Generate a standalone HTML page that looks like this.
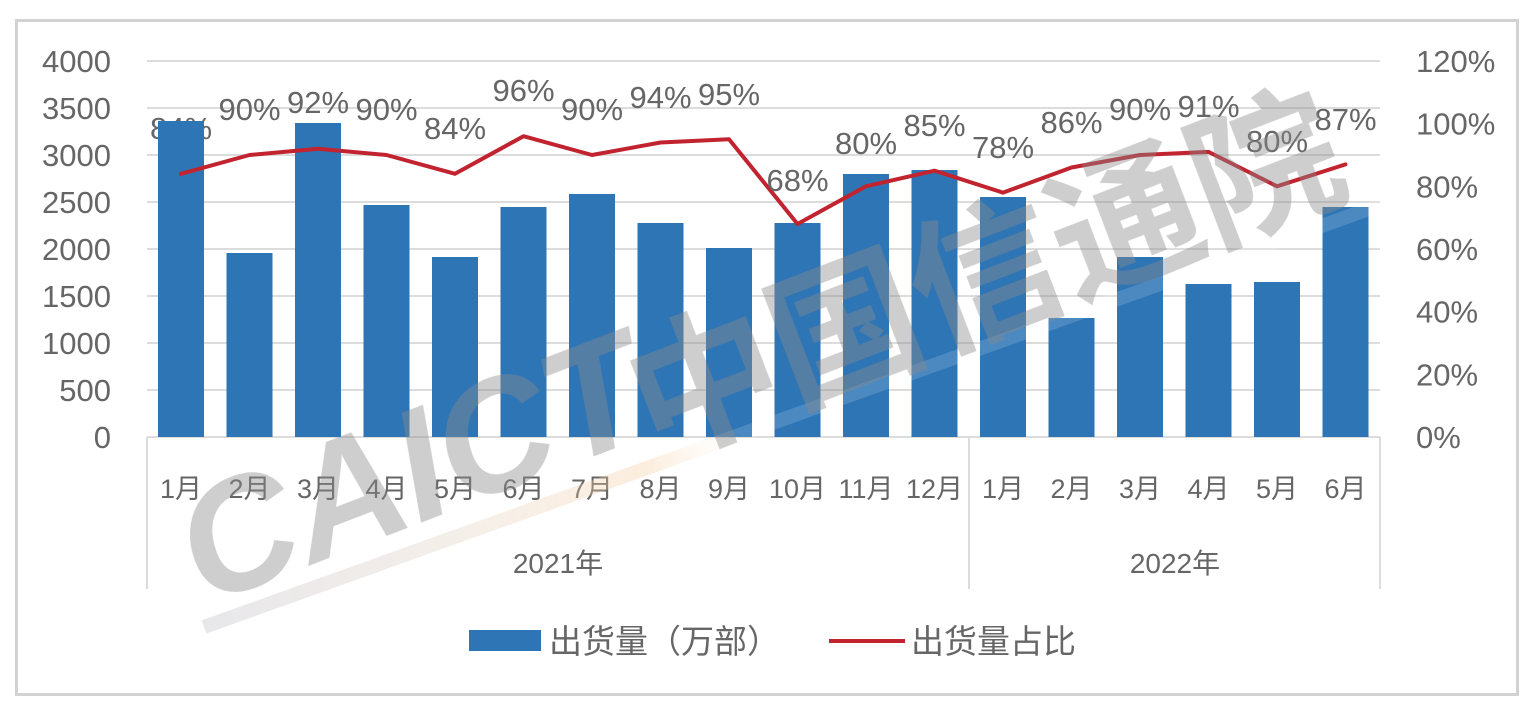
<!DOCTYPE html>
<html><head><meta charset="utf-8"><style>
html,body{margin:0;padding:0;background:#fff;}
svg{display:block;}
text{font-family:"Liberation Sans","Noto Sans CJK SC",sans-serif;fill:#666;}
</style></head><body>
<svg width="1535" height="711" viewBox="0 0 1535 711" xmlns="http://www.w3.org/2000/svg">
<defs>
<linearGradient id="stripe" gradientUnits="userSpaceOnUse" x1="204" y1="627" x2="1380" y2="205">
<stop offset="0" stop-color="#c4c4cc" stop-opacity="0.8"/>
<stop offset="0.25" stop-color="#e8d4c0" stop-opacity="0.7"/>
<stop offset="0.38" stop-color="#f3c690" stop-opacity="0.6"/>
<stop offset="0.45" stop-color="#ffffff" stop-opacity="0.3"/>
<stop offset="1" stop-color="#ffffff" stop-opacity="0.3"/>
</linearGradient>
</defs>
<rect x="0" y="0" width="1535" height="711" fill="#fff"/>
<rect x="16.5" y="20.5" width="1501" height="674" fill="#fff" stroke="#d2d2d2" stroke-width="3"/>

<!-- gridlines -->
<g stroke="#dcdcdc" stroke-width="2">
<line x1="147" y1="61" x2="1380" y2="61"/>
<line x1="147" y1="108" x2="1380" y2="108"/>
<line x1="147" y1="155" x2="1380" y2="155"/>
<line x1="147" y1="202" x2="1380" y2="202"/>
<line x1="147" y1="249" x2="1380" y2="249"/>
<line x1="147" y1="296" x2="1380" y2="296"/>
<line x1="147" y1="343" x2="1380" y2="343"/>
<line x1="147" y1="390" x2="1380" y2="390"/>
<line x1="147" y1="437" x2="1380" y2="437"/>
<line x1="147" y1="437" x2="147" y2="589"/>
<line x1="969" y1="437" x2="969" y2="589"/>
<line x1="1380" y1="437" x2="1380" y2="589"/>
</g>

<!-- left axis labels -->
<g font-size="31" text-anchor="end">
<text x="111" y="72">4000</text>
<text x="111" y="119">3500</text>
<text x="111" y="166">3000</text>
<text x="111" y="213">2500</text>
<text x="111" y="260">2000</text>
<text x="111" y="307">1500</text>
<text x="111" y="354">1000</text>
<text x="111" y="401">500</text>
<text x="111" y="448">0</text>
</g>
<!-- right axis labels -->
<g font-size="31" text-anchor="start">
<text x="1416" y="72">120%</text>
<text x="1416" y="134.7">100%</text>
<text x="1416" y="197.3">80%</text>
<text x="1416" y="260">60%</text>
<text x="1416" y="322.7">40%</text>
<text x="1416" y="385.3">20%</text>
<text x="1416" y="448">0%</text>
</g>

<!-- label hidden behind first bar -->
<text x="181" y="139" font-size="31" text-anchor="middle">84%</text>

<!-- bars -->
<g fill="#2e75b6">
<rect x="158" y="121" width="46" height="316"/>
<rect x="226.5" y="253" width="46" height="184"/>
<rect x="295" y="123" width="46" height="314"/>
<rect x="363.5" y="205" width="46" height="232"/>
<rect x="432" y="257" width="46" height="180"/>
<rect x="500.5" y="207" width="46" height="230"/>
<rect x="569" y="194" width="46" height="243"/>
<rect x="637.5" y="223" width="46" height="214"/>
<rect x="706" y="248" width="46" height="189"/>
<rect x="774.5" y="223" width="46" height="214"/>
<rect x="843" y="174" width="46" height="263"/>
<rect x="911.5" y="170" width="46" height="267"/>
<rect x="980" y="197" width="46" height="240"/>
<rect x="1048.5" y="318" width="46" height="119"/>
<rect x="1117" y="257" width="46" height="180"/>
<rect x="1185.5" y="284" width="46" height="153"/>
<rect x="1254" y="282" width="46" height="155"/>
<rect x="1322.5" y="207" width="46" height="230"/>
</g>

<!-- line -->
<polyline fill="none" stroke="#c1232f" stroke-width="4" stroke-linejoin="round" stroke-linecap="round"
points="181,173.8 249.5,155 318,148.7 386.5,155 455,173.8 523.5,136.2 592,155 660.5,142.5 729,139.3 797.5,224 866,186.3 934.5,170.7 1003,192.6 1071.5,167.5 1140,155 1208.5,151.9 1277,186.3 1345.5,164.4"/>

<!-- data labels -->
<g font-size="31" text-anchor="middle">
<text x="249.5" y="120">90%</text>
<text x="318" y="113">92%</text>
<text x="386.5" y="120">90%</text>
<text x="455" y="139">84%</text>
<text x="523.5" y="101">96%</text>
<text x="592" y="120">90%</text>
<text x="660.5" y="108">94%</text>
<text x="729" y="105">95%</text>
<text x="797.5" y="191">68%</text>
<text x="866" y="154">80%</text>
<text x="934.5" y="136">85%</text>
<text x="1003" y="158">78%</text>
<text x="1071.5" y="133">86%</text>
<text x="1140" y="120">90%</text>
<text x="1208.5" y="117">91%</text>
<text x="1277" y="152">80%</text>
<text x="1345.5" y="130">87%</text>
</g>

<!-- category labels -->
<g font-size="27" text-anchor="middle">
<text x="181" y="498">1月</text>
<text x="249.5" y="498">2月</text>
<text x="318" y="498">3月</text>
<text x="386.5" y="498">4月</text>
<text x="455" y="498">5月</text>
<text x="523.5" y="498">6月</text>
<text x="592" y="498">7月</text>
<text x="660.5" y="498">8月</text>
<text x="729" y="498">9月</text>
<text x="797.5" y="498">10月</text>
<text x="866" y="498">11月</text>
<text x="934.5" y="498">12月</text>
<text x="1003" y="498">1月</text>
<text x="1071.5" y="498">2月</text>
<text x="1140" y="498">3月</text>
<text x="1208.5" y="498">4月</text>
<text x="1277" y="498">5月</text>
<text x="1345.5" y="498">6月</text>
</g>
<g font-size="28" text-anchor="middle">
<text x="558" y="573">2021年</text>
<text x="1175" y="573">2022年</text>
</g>

<!-- legend -->
<rect x="469" y="630" width="72" height="21" fill="#2e75b6"/>
<text x="549" y="653" font-size="33">出货量（万部）</text>
<line x1="829" y1="641" x2="905" y2="641" stroke="#c1232f" stroke-width="4"/>
<text x="911" y="653" font-size="33">出货量占比</text>

<!-- watermark -->
<g opacity="0.5">
<line x1="204" y1="627" x2="1380" y2="205" stroke="url(#stripe)" stroke-width="14"/>
</g>
<g opacity="0.42">
<text x="204" y="606" font-size="159" font-weight="bold" font-style="italic" transform="rotate(-21 204 606)" style="fill:#8a8a8a;font-family:'Liberation Sans',sans-serif;">CAICT</text>
<text x="654" y="460" font-size="150" font-weight="bold" transform="rotate(-21 654 460)" style="fill:#8a8a8a;font-family:'Noto Sans CJK SC','WenQuanYi Zen Hei',sans-serif;">中国信通院</text>
</g>
</svg>
</body></html>
